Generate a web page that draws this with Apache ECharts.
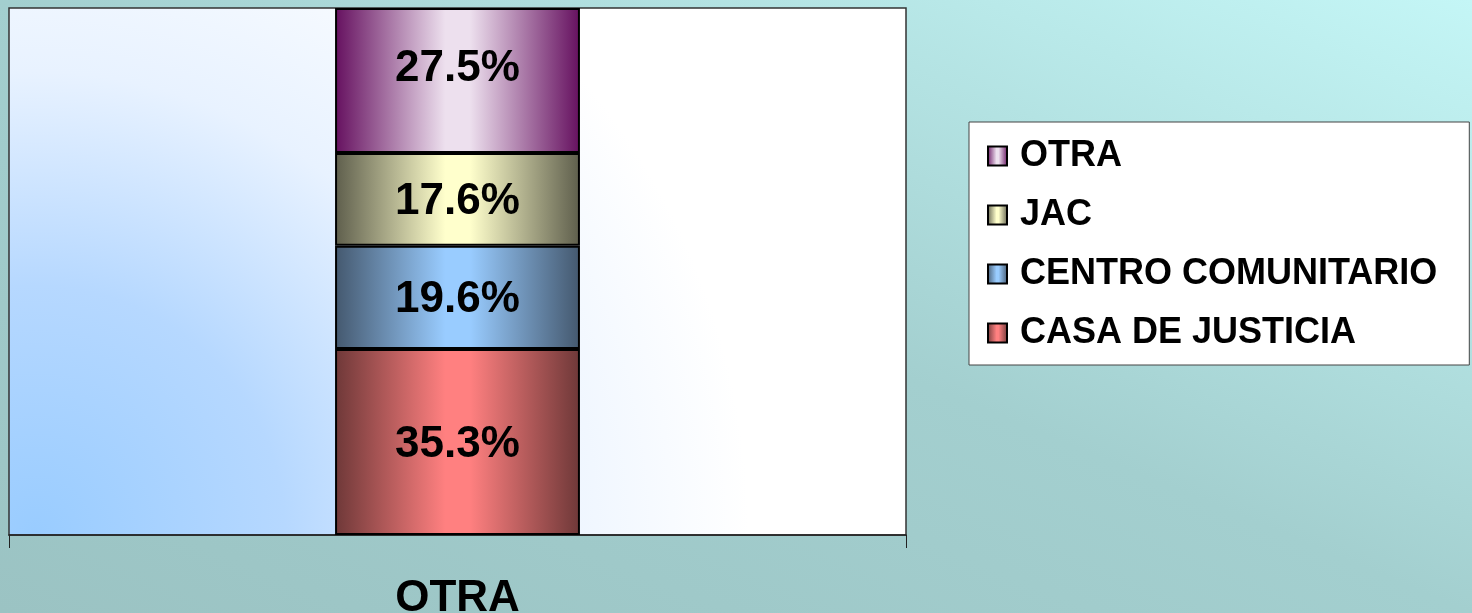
<!DOCTYPE html>
<html>
<head>
<meta charset="utf-8">
<script src="https://cdn.jsdelivr.net/npm/echarts@6/dist/echarts.min.js"></script>
<style>
  html, body { margin: 0; padding: 0; }
  body {
    width: 1472px; height: 613px;
    background: linear-gradient(to top right, #9bc3c3 0%, #a3cfcf 50%, #c4f6f6 100%);
  }
  #chart { width: 1472px; height: 613px; }
</style>
</head>
<body>
<div id="chart"></div>
<script>
// datos
const categories = ['OTRA']
const seriesNames = ['CASA DE JUSTICIA', 'CENTRO COMUNITARIO', 'JAC', 'OTRA']
const casaJusticia = [35.3]
const centroComunitario = [19.6]
const jac = [17.6]
const otra = [27.5]
const legendOrder = ['OTRA', 'JAC', 'CENTRO COMUNITARIO', 'CASA DE JUSTICIA']

const values = [casaJusticia, centroComunitario, jac, otra]
// color de borde (oscuro) y centro (claro) de cada barra
const shades = [
  ['#6e3838', '#ff8080'],
  ['#44586e', '#99ccff'],
  ['#5e5e4c', '#ffffcc'],
  ['#65105f', '#ede0ee']
]

function barColor(pair) {
  return new echarts.graphic.LinearGradient(0, 0, 1, 0, [
    { offset: 0, color: pair[0] },
    { offset: 0.45, color: pair[1] },
    { offset: 0.55, color: pair[1] },
    { offset: 1, color: pair[0] }
  ])
}

const chart = echarts.init(document.getElementById('chart'))

chart.setOption({
  backgroundColor: 'transparent',
  animation: false,
  grid: {
    left: 9,
    right: 566,
    top: 8,
    bottom: 78,
    outerBoundsMode: 'none',
    containLabel: false,
    show: true,
    borderColor: '#333',
    borderWidth: 1.5,
    backgroundColor: new echarts.graphic.RadialGradient(0.03, 1, 1.35, [
      { offset: 0, color: '#99ccff' },
      { offset: 0.35, color: '#b6d8ff' },
      { offset: 0.65, color: '#e8f2ff' },
      { offset: 1, color: '#ffffff' }
    ])
  },
  legend: {
    orient: 'vertical',
    left: 969,
    top: 122,
    data: legendOrder,
    backgroundColor: '#ffffff',
    borderColor: '#444',
    borderWidth: 1,
    padding: [16, 32, 14, 18],
    itemGap: 23,
    itemWidth: 19,
    itemHeight: 19,
    icon: 'rect',
    textStyle: {
      fontFamily: 'Liberation Sans, Arial, sans-serif',
      fontWeight: 'bold',
      fontSize: 36,
      lineHeight: 36,
      color: '#000',
      padding: [0, 0, 0, 8]
    }
  },
  xAxis: {
    type: 'category',
    data: categories,
    axisLine: { lineStyle: { color: '#222', width: 1.5 } },
    axisTick: { show: true, length: 13, lineStyle: { color: '#222' } },
    axisLabel: {
      margin: 42,
      fontFamily: 'Liberation Sans, Arial, sans-serif',
      fontWeight: 'bold',
      fontSize: 44,
      color: '#000'
    }
  },
  yAxis: {
    type: 'value',
    min: 0,
    max: 100,
    show: false,
    splitLine: { show: false }
  },
  series: seriesNames.map((name, i) => ({
    name: name,
    type: 'bar',
    stack: 'total',
    barWidth: '27.3%',
    data: values[i],
    itemStyle: {
      color: barColor(shades[i]),
      borderColor: '#000',
      borderWidth: 2
    },
    label: {
      show: true,
      position: 'inside',
      offset: i === 3 ? [0, -12] : [0, 3],
      formatter: p => p.value.toFixed(1) + '%',
      fontFamily: 'Liberation Sans, Arial, sans-serif',
      fontWeight: 'bold',
      fontSize: 44,
      color: '#000'
    }
  }))
})
</script>
</body>
</html>
